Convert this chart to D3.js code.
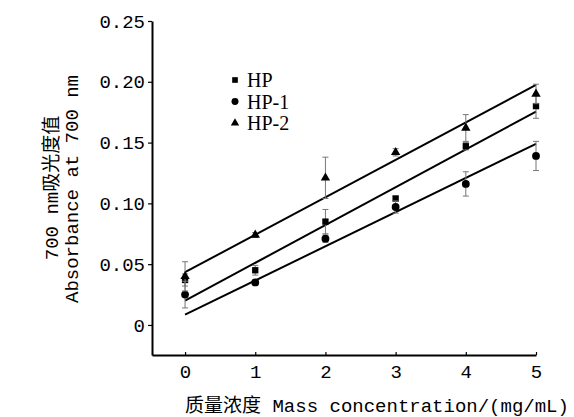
<!DOCTYPE html>
<html>
<head>
<meta charset="utf-8">
<script src="https://cdn.jsdelivr.net/npm/d3@7/dist/d3.min.js"></script>
<style>
body { margin: 0; background: #fff; }
</style>
</head>
<body>
<script>
var width = 574;
var height = 417;

var margin = {top: 21, left: 152, right: 38, bottom: 62};

// data
var conc = [0, 1, 2, 3, 4, 5];
var seriesNames = ["HP", "HP-1", "HP-2"];
var hpValues = [0.037, 0.045, 0.085, 0.104, 0.147, 0.180];
var hpErrors = [0.005, 0.004, 0.010, 0.002, 0.003, 0.010];
var hp1Values = [0.025, 0.035, 0.071, 0.097, 0.116, 0.139];
var hp1Errors = [0.011, 0.002, 0.003, 0.005, 0.010, 0.012];
var hp2Values = [0.040, 0.074, 0.121, 0.142, 0.162, 0.190];
var hp2Errors = [0.012, 0.002, 0.017, 0.003, 0.011, 0.008];
// fitted lines: value at x=0 and slope
var fitIntercepts = [0.020, 0.0085, 0.0434];
var fitSlopes = [0.0311, 0.0281, 0.0308];
var yTicks = [0, 0.05, 0.10, 0.15, 0.20, 0.25];
var xTicks = [0, 1, 2, 3, 4, 5];

var allValues = [hpValues, hp1Values, hp2Values];
var allErrors = [hpErrors, hp1Errors, hp2Errors];
var shapes = [d3.symbolSquare, d3.symbolCircle, d3.symbolTriangle];
var shapeSizes = [40, 48, 38];

var monoFont = "'Liberation Mono', 'Noto Sans CJK SC', monospace";

var svg = d3.select("body")
  .append("svg")
  .attr("width", width)
  .attr("height", height);

var xScale = d3.scaleLinear()
  .domain([-0.471, 5])
  .range([margin.left, width - margin.right]);

var yScale = d3.scaleLinear()
  .domain([-0.0247, 0.25])
  .range([height - margin.bottom, margin.top]);

// axes
var xAxis = svg.append("g")
  .attr("transform", "translate(0," + (height - margin.bottom) + ")")
  .call(d3.axisBottom(xScale).tickValues(xTicks).tickSizeInner(-3).tickSizeOuter(0).tickPadding(10)
    .tickFormat(d3.format("d")));

var yAxis = svg.append("g")
  .attr("transform", "translate(" + margin.left + ",0)")
  .call(d3.axisLeft(yScale).tickValues(yTicks).tickSizeInner(4).tickSizeOuter(0).tickPadding(3)
    .tickFormat(function(d) { return d === 0 ? "0" : d3.format(".2f")(d); }));

svg.selectAll(".domain").attr("stroke", "#000").attr("stroke-width", 2);
svg.selectAll(".tick line").attr("stroke", "#000").attr("stroke-width", 1.2);
svg.selectAll(".tick text")
  .attr("font-family", monoFont)
  .attr("font-size", 19)
  .attr("fill", "#000");

// fit lines
seriesNames.forEach(function(name, i) {
  svg.append("line")
    .attr("x1", xScale(0))
    .attr("y1", yScale(fitIntercepts[i]))
    .attr("x2", xScale(5))
    .attr("y2", yScale(fitIntercepts[i] + fitSlopes[i] * 5))
    .attr("stroke", "#000")
    .attr("stroke-width", 2);
});

// error bars and markers
seriesNames.forEach(function(name, i) {
  var g = svg.append("g");
  conc.forEach(function(c, j) {
    var v = allValues[i][j], e = allErrors[i][j];
    var x = xScale(c);
    g.append("line")
      .attr("x1", x).attr("x2", x)
      .attr("y1", yScale(v - e)).attr("y2", yScale(v + e))
      .attr("stroke", "#777").attr("stroke-width", 1);
    [v - e, v + e].forEach(function(ev) {
      g.append("line")
        .attr("x1", x - 3).attr("x2", x + 3)
        .attr("y1", yScale(ev)).attr("y2", yScale(ev))
        .attr("stroke", "#777").attr("stroke-width", 1);
    });
    g.append("path")
      .attr("d", d3.symbol().type(shapes[i]).size(shapeSizes[i]))
      .attr("transform", "translate(" + x + "," + yScale(v) + ")")
      .attr("fill", "#000");
  });
});

// legend
var legend = svg.append("g").attr("transform", "translate(235,80)");
seriesNames.forEach(function(name, i) {
  legend.append("path")
    .attr("d", d3.symbol().type(shapes[i]).size(shapeSizes[i] * 0.8))
    .attr("transform", "translate(0," + (i * 21.5) + ")")
    .attr("fill", "#000");
  legend.append("text")
    .attr("x", 12)
    .attr("y", i * 21.5)
    .attr("dy", "0.35em")
    .attr("font-family", "'Liberation Serif', serif")
    .attr("font-size", 20)
    .text(name);
});

// axis titles
svg.append("text")
  .attr("x", 377)
  .attr("y", 412)
  .attr("text-anchor", "middle")
  .attr("font-family", monoFont)
  .attr("font-size", 19)
  .text("质量浓度 Mass concentration/(mg/mL)");

svg.append("text")
  .attr("transform", "translate(58,188) rotate(-90)")
  .attr("text-anchor", "middle")
  .attr("font-family", monoFont)
  .attr("font-size", 19)
  .text("700 nm吸光度值");

svg.append("text")
  .attr("transform", "translate(78,189) rotate(-90)")
  .attr("text-anchor", "middle")
  .attr("font-family", monoFont)
  .attr("font-size", 19)
  .text("Absorbance at 700 nm");
</script>
</body>
</html>
